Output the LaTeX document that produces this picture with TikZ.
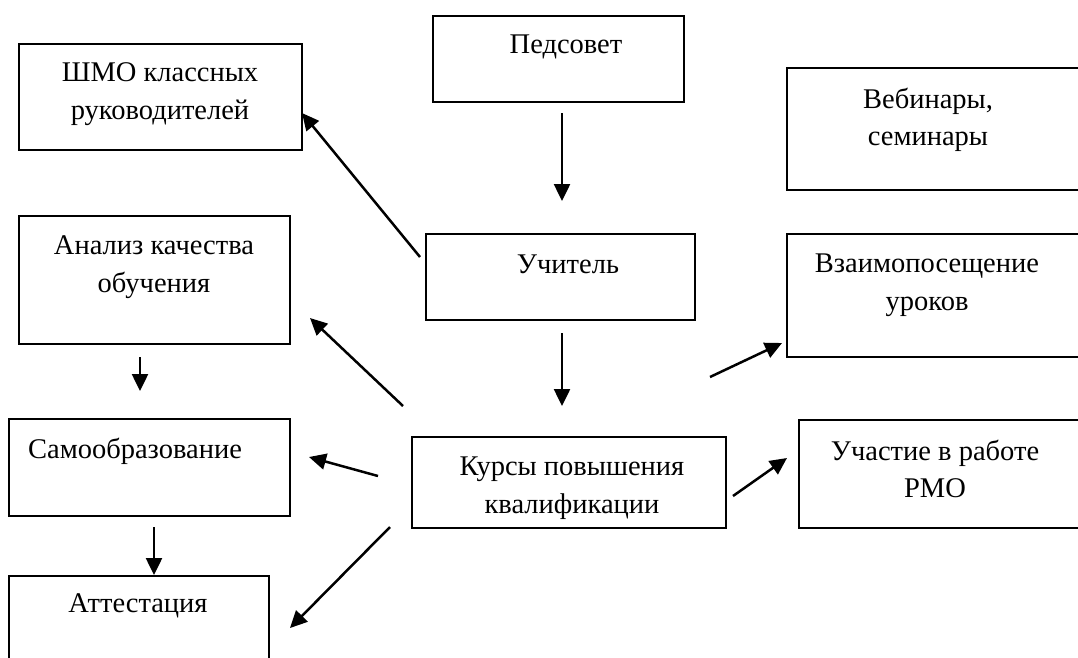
\documentclass[tikz,border=0pt]{standalone}
\usepackage{fontspec}
\setmainfont{Liberation Serif}
\usetikzlibrary{arrows.meta}
\begin{document}
\begin{tikzpicture}[x=1pt,y=-1pt,
  box/.style={draw=black,line width=2.3pt,rectangle,anchor=north west,inner sep=0pt},
  txt/.style={align=center,inner sep=0pt,font=\fontsize{28.5}{37.5}\selectfont},
  arr/.style={line width=2.5pt,-{Triangle[length=17pt,width=16pt]}}]
\useasboundingbox (0,0) rectangle (1078,657);
\clip (0,0) rectangle (1078,657);
\fill[white] (0,0) rectangle (1078,657);
% boxes
\node[box,minimum width=283pt,minimum height=106pt] (shmo) at (18,43) {};
\node[box,minimum width=251pt,minimum height=86pt] (ped) at (432,15) {};
\node[box,minimum width=304pt,minimum height=122pt] (web) at (786,67) {};
\node[box,minimum width=271pt,minimum height=128pt] (anal) at (18,215) {};
\node[box,minimum width=269pt,minimum height=86pt] (uch) at (425,233) {};
\node[box,minimum width=304pt,minimum height=123pt] (vza) at (786,233) {};
\node[box,minimum width=314pt,minimum height=91pt] (kur) at (411,436) {};
\node[box,minimum width=281pt,minimum height=97pt] (sam) at (8,418) {};
\node[box,minimum width=292pt,minimum height=108pt] (rmo) at (798,419) {};
\node[box,minimum width=260pt,minimum height=95pt] (att) at (8,575) {};
% texts
\node[txt] (tshmo) at (160,94) {ШМО классных\\руководителей};
\node[txt] (tped) at (566,47) {Педсовет};
\node[txt] (tweb) at (928,120) {Вебинары,\\семинары};
\node[txt] (tanal) at (154,267) {Анализ качества\\обучения};
\node[txt] (tuch) at (568,264) {Учитель};
\node[txt] (tvza) at (927,285) {Взаимопосещение\\уроков};
\node[txt] (tkur) at (572,488) {Курсы повышения\\квалификации};
\node[txt] (tsam) at (135,451) {Самообразование};
\node[txt] (trmo) at (935,469) {Участие в работе\\РМО};
\node[txt] (tatt) at (138,606) {Аттестация};
% arrow endpoints
\coordinate (a1s) at (420,257); \coordinate (a1e) at (302,113);
\coordinate (a2s) at (562,113); \coordinate (a2e) at (562,201);
\coordinate (a3s) at (562,333); \coordinate (a3e) at (562,406);
\coordinate (a4s) at (403,406); \coordinate (a4e) at (310,318);
\coordinate (a5s) at (710,377); \coordinate (a5e) at (782,343);
\coordinate (a6s) at (140,357); \coordinate (a6e) at (140,391);
\coordinate (a7s) at (378,476); \coordinate (a7e) at (309,457);
\coordinate (a8s) at (733,496); \coordinate (a8e) at (787,458);
\coordinate (a9s) at (154,527); \coordinate (a9e) at (154,575);
\coordinate (a10s) at (390,527); \coordinate (a10e) at (290,628);
\draw[arr] (a1s) -- (a1e);
\draw[arr] (a2s) -- (a2e);
\draw[arr] (a3s) -- (a3e);
\draw[arr] (a4s) -- (a4e);
\draw[arr] (a5s) -- (a5e);
\draw[arr] (a6s) -- (a6e);
\draw[arr] (a7s) -- (a7e);
\draw[arr] (a8s) -- (a8e);
\draw[arr] (a9s) -- (a9e);
\draw[arr] (a10s) -- (a10e);
\end{tikzpicture}
\end{document}
